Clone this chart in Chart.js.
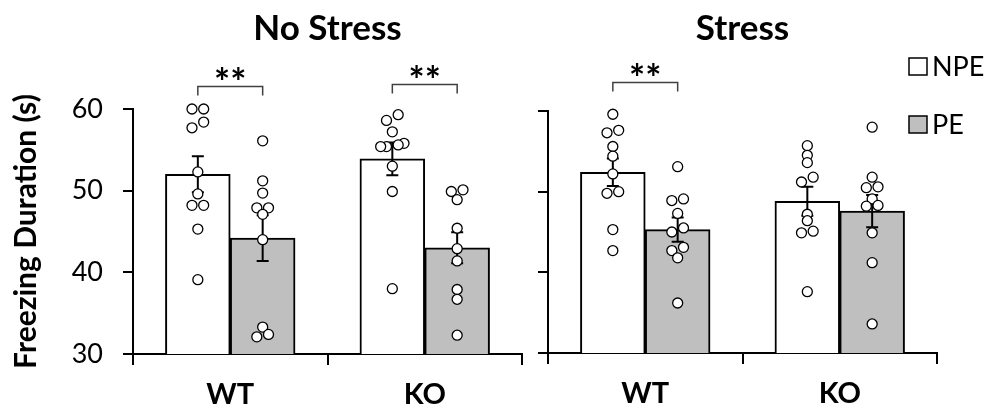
<!DOCTYPE html>
<html>
<head>
<meta charset="utf-8">
<script src="https://cdn.jsdelivr.net/npm/chart.js@4.4.1/dist/chart.umd.min.js"></script>
<style>
  html, body { margin: 0; padding: 0; background: #fff; }
  #wrap { position: relative; width: 991px; height: 410px; }
  #wrap canvas { position: absolute; top: 0; }
</style>
</head>
<body>
<div id="wrap">
  <canvas id="noStress" width="535" height="410" style="left:0"></canvas>
  <canvas id="stress" width="456" height="410" style="left:535px"></canvas>
</div>
<script>
// categories and series
const groups = ['WT', 'KO'];
const seriesNames = ['NPE', 'PE'];
const yTicks = [30, 40, 50, 60];

// No Stress - means / SEM
const noStressNpeMean = [52.0, 53.9];
const noStressNpeSem = [2.2, 2.0];
const noStressPeMean = [44.2, 43.0];
const noStressPeSem = [2.8, 1.9];
// No Stress - single animals
const noStressNpeDots = [
  [60.0, 60.0, 58.4, 57.7, 52.3, 49.6, 48.2, 48.2, 45.3, 39.1],
  [59.3, 58.6, 57.2, 55.8, 55.6, 55.4, 55.4, 53.0, 49.9, 38.0]
];
const noStressPeDots = [
  [56.1, 51.2, 49.7, 47.9, 47.9, 47.1, 44.0, 33.3, 32.4, 32.1],
  [50.1, 49.9, 48.9, 45.4, 42.9, 41.4, 37.9, 36.7, 32.3]
];

// Stress - means / SEM
const stressNpeMean = [52.4, 48.8];
const stressNpeSem = [1.7, 1.8];
const stressPeMean = [45.3, 47.6];
const stressPeSem = [1.5, 2.0];
// Stress - single animals
const stressNpeDots = [
  [59.6, 57.6, 57.3, 55.6, 54.4, 52.2, 50.0, 49.8, 45.3, 42.7],
  [55.7, 54.5, 53.6, 51.8, 51.2, 47.2, 46.4, 45.1, 44.9, 37.6]
];
const stressPeDots = [
  [53.1, 49.1, 48.9, 47.3, 45.5, 45.0, 43.1, 42.7, 41.8, 36.2],
  [58.0, 51.8, 50.6, 50.5, 49.1, 48.3, 48.2, 44.9, 41.2, 33.6]
];

// significance brackets (group index, bracket height in s)
const noStressSig = [{ group: 0, y: 62.8, label: '**' }, { group: 1, y: 63.1, label: '**' }];
const stressSig = [{ group: 0, y: 63.6, label: '**' }];

const FONT = 'Lato';
const CAT_PCT = 2 / 3;
const DOT_STEP = 0.03;
const colors = ['#ffffff', '#bfbfbf'];

// position of a series inside its group on the hidden 0..n linear axis
function seriesCenter(g, s) {
  return g + 0.5 + (s - (seriesNames.length - 1) / 2) * CAT_PCT / seriesNames.length;
}

// dots with nearly equal values are spread sideways, highest on the right
function spread(values, center) {
  const sorted = [...values].sort((a, b) => b - a);
  const pts = [];
  let i = 0;
  while (i < sorted.length) {
    let j = i + 1;
    while (j < sorted.length && sorted[j - 1] - sorted[j] < 0.75) j++;
    const n = j - i;
    for (let k = 0; k < n; k++) {
      let slot;
      if (n % 2 === 0) slot = k < n / 2 ? n / 2 - k : -(k - n / 2 + 1);
      else slot = (n - 1) / 2 - k;
      pts.push({ x: center + slot * DOT_STEP, y: sorted[i + k] });
    }
    i = j;
  }
  return pts;
}

function dotsFor(perGroup, s) {
  let pts = [];
  perGroup.forEach((vals, g) => { pts = pts.concat(spread(vals, seriesCenter(g, s))); });
  return pts;
}

function barsFor(means, s) {
  return means.map((v, g) => ({ x: seriesCenter(g, s), y: v }));
}

// error bars, drawn right after each bar dataset (under the dots)
const errorBars = {
  id: 'errorBars',
  afterDatasetDraw(chart, args) {
    const ds = chart.data.datasets[args.index];
    if (!ds.sem) return;
    const ctx = chart.ctx, y = chart.scales.y;
    ctx.save();
    ctx.strokeStyle = '#000';
    ctx.lineWidth = 2;
    args.meta.data.forEach((bar, j) => {
      const top = y.getPixelForValue(ds.data[j].y + ds.sem[j]);
      const bot = y.getPixelForValue(ds.data[j].y - ds.sem[j]);
      ctx.beginPath();
      ctx.moveTo(bar.x, top); ctx.lineTo(bar.x, bot);
      ctx.moveTo(bar.x - 6, top); ctx.lineTo(bar.x + 6, top);
      ctx.moveTo(bar.x - 6, bot); ctx.lineTo(bar.x + 6, bot);
      ctx.stroke();
    });
    ctx.restore();
  }
};

const sigBrackets = {
  id: 'sigBrackets',
  afterDraw(chart, args, opts) {
    const ctx = chart.ctx, y = chart.scales.y;
    const a = chart.getDatasetMeta(0).data, b = chart.getDatasetMeta(1).data;
    ctx.save();
    (opts.items || []).forEach(it => {
      const x1 = a[it.group].x, x2 = b[it.group].x;
      const top = Math.round(y.getPixelForValue(it.y)) + 0.5;
      ctx.strokeStyle = '#404040';
      ctx.lineWidth = 1.5;
      ctx.beginPath();
      ctx.moveTo(x1, top + 9); ctx.lineTo(x1, top); ctx.lineTo(x2, top); ctx.lineTo(x2, top + 9);
      ctx.stroke();
      ctx.fillStyle = '#000';
      ctx.font = 'bold 38px ' + FONT;
      ctx.textAlign = 'center';
      ctx.textBaseline = 'alphabetic';
      const m = ctx.measureText(it.label);
      const mid = (m.actualBoundingBoxAscent - m.actualBoundingBoxDescent) / 2;
      ctx.fillText(it.label, (x1 + x2) / 2, top - 14 + mid);
    });
    ctx.restore();
  }
};

const boxLegend = {
  id: 'boxLegend',
  afterDraw(chart, args, opts) {
    if (!opts.show) return;
    const ctx = chart.ctx, area = chart.chartArea;
    ctx.save();
    chart.data.datasets.filter(d => d.type !== 'scatter').forEach((d, i) => {
      const bx = area.right - 28, by = 58 + i * 58;
      ctx.fillStyle = d.backgroundColor;
      ctx.fillRect(bx, by, 18, 17);
      ctx.strokeStyle = '#000';
      ctx.lineWidth = 1.5;
      ctx.strokeRect(bx, by, 18, 17);
      ctx.fillStyle = '#000';
      ctx.font = '27px ' + FONT;
      ctx.textAlign = 'left';
      ctx.textBaseline = 'middle';
      ctx.fillText(d.label, bx + 23, by + 9);
    });
    ctx.restore();
  }
};

function makePanel(id, title, npeMean, npeSem, peMean, peSem, npeDots, peDots, sig, p) {
  const canvas = document.getElementById(id);
  const plotWidth = canvas.width - p.left - p.right;
  // bars and dots share the hidden linear axis; the category axis only draws ticks and labels
  const barStyle = { xAxisID: 'xs', grouped: false, borderColor: '#000', borderWidth: 2,
    borderSkipped: false, order: 1,
    barThickness: plotWidth / groups.length * CAT_PCT / seriesNames.length };
  const dotStyle = { type: 'scatter', xAxisID: 'xs', order: 0, grouped: false, clip: false,
    pointRadius: 5, pointBackgroundColor: '#fff', pointBorderColor: '#000', pointBorderWidth: 1.3 };
  return new Chart(canvas, {
    type: 'bar',
    data: {
      labels: groups,
      datasets: [
        Object.assign({ label: seriesNames[0], data: barsFor(npeMean, 0), sem: npeSem, backgroundColor: colors[0] }, barStyle),
        Object.assign({ label: seriesNames[1], data: barsFor(peMean, 1), sem: peSem, backgroundColor: colors[1] }, barStyle),
        Object.assign({ label: 'NPE dots', data: dotsFor(npeDots, 0) }, dotStyle),
        Object.assign({ label: 'PE dots', data: dotsFor(peDots, 1) }, dotStyle)
      ]
    },
    options: {
      responsive: false,
      animation: false,
      layout: { padding: { left: 0, right: p.right, top: 0, bottom: 0 } },
      plugins: {
        legend: { display: false },
        tooltip: { enabled: false },
        title: {
          display: true, text: title, fullSize: false, color: '#000',
          font: { family: FONT, size: 35, weight: 'bold' },
          padding: { top: 8, bottom: p.top - 50 }
        },
        sigBrackets: { items: sig },
        boxLegend: { show: p.legend }
      },
      scales: {
        x: {
          type: 'category', display: true, offset: true,
          grid: { offset: true, drawOnChartArea: false, drawTicks: true, tickLength: 11, color: '#000', lineWidth: 2 },
          border: { display: true, color: '#000', width: 2 },
          ticks: { color: '#000', font: { family: FONT, size: 29, weight: 'bold' }, padding: 12 },
          afterFit(s) { s.height = p.bottom; }
        },
        xs: { type: 'linear', display: false, offset: false, grace: 0, min: 0, max: groups.length },
        y: {
          min: yTicks[0], max: yTicks[yTicks.length - 1],
          afterBuildTicks(s) { s.ticks = yTicks.map(v => ({ value: v })); },
          grid: { drawOnChartArea: false, drawTicks: true, tickLength: 10, color: '#000', lineWidth: 2 },
          border: { display: true, color: '#000', width: 2 },
          ticks: { display: p.labels, color: '#000', font: { family: FONT, size: 27 }, padding: 20 },
          title: {
            display: p.labels, text: 'Freezing Duration (s)', color: '#000',
            font: { family: FONT, size: 30, weight: 'bold' }, padding: { top: 8, bottom: 0 }
          },
          afterFit(s) { s.width = p.left; }
        }
      }
    },
    plugins: [errorBars, sigBrackets, boxLegend]
  });
}

makePanel('noStress', 'No Stress', noStressNpeMean, noStressNpeSem, noStressPeMean, noStressPeSem,
  noStressNpeDots, noStressPeDots, noStressSig,
  { left: 133, right: 13, top: 109, bottom: 56, labels: true, legend: false });
makePanel('stress', 'Stress', stressNpeMean, stressNpeSem, stressPeMean, stressPeSem,
  stressNpeDots, stressPeDots, stressSig,
  { left: 13, right: 54, top: 111, bottom: 57, labels: false, legend: true });
</script>
</body>
</html>
